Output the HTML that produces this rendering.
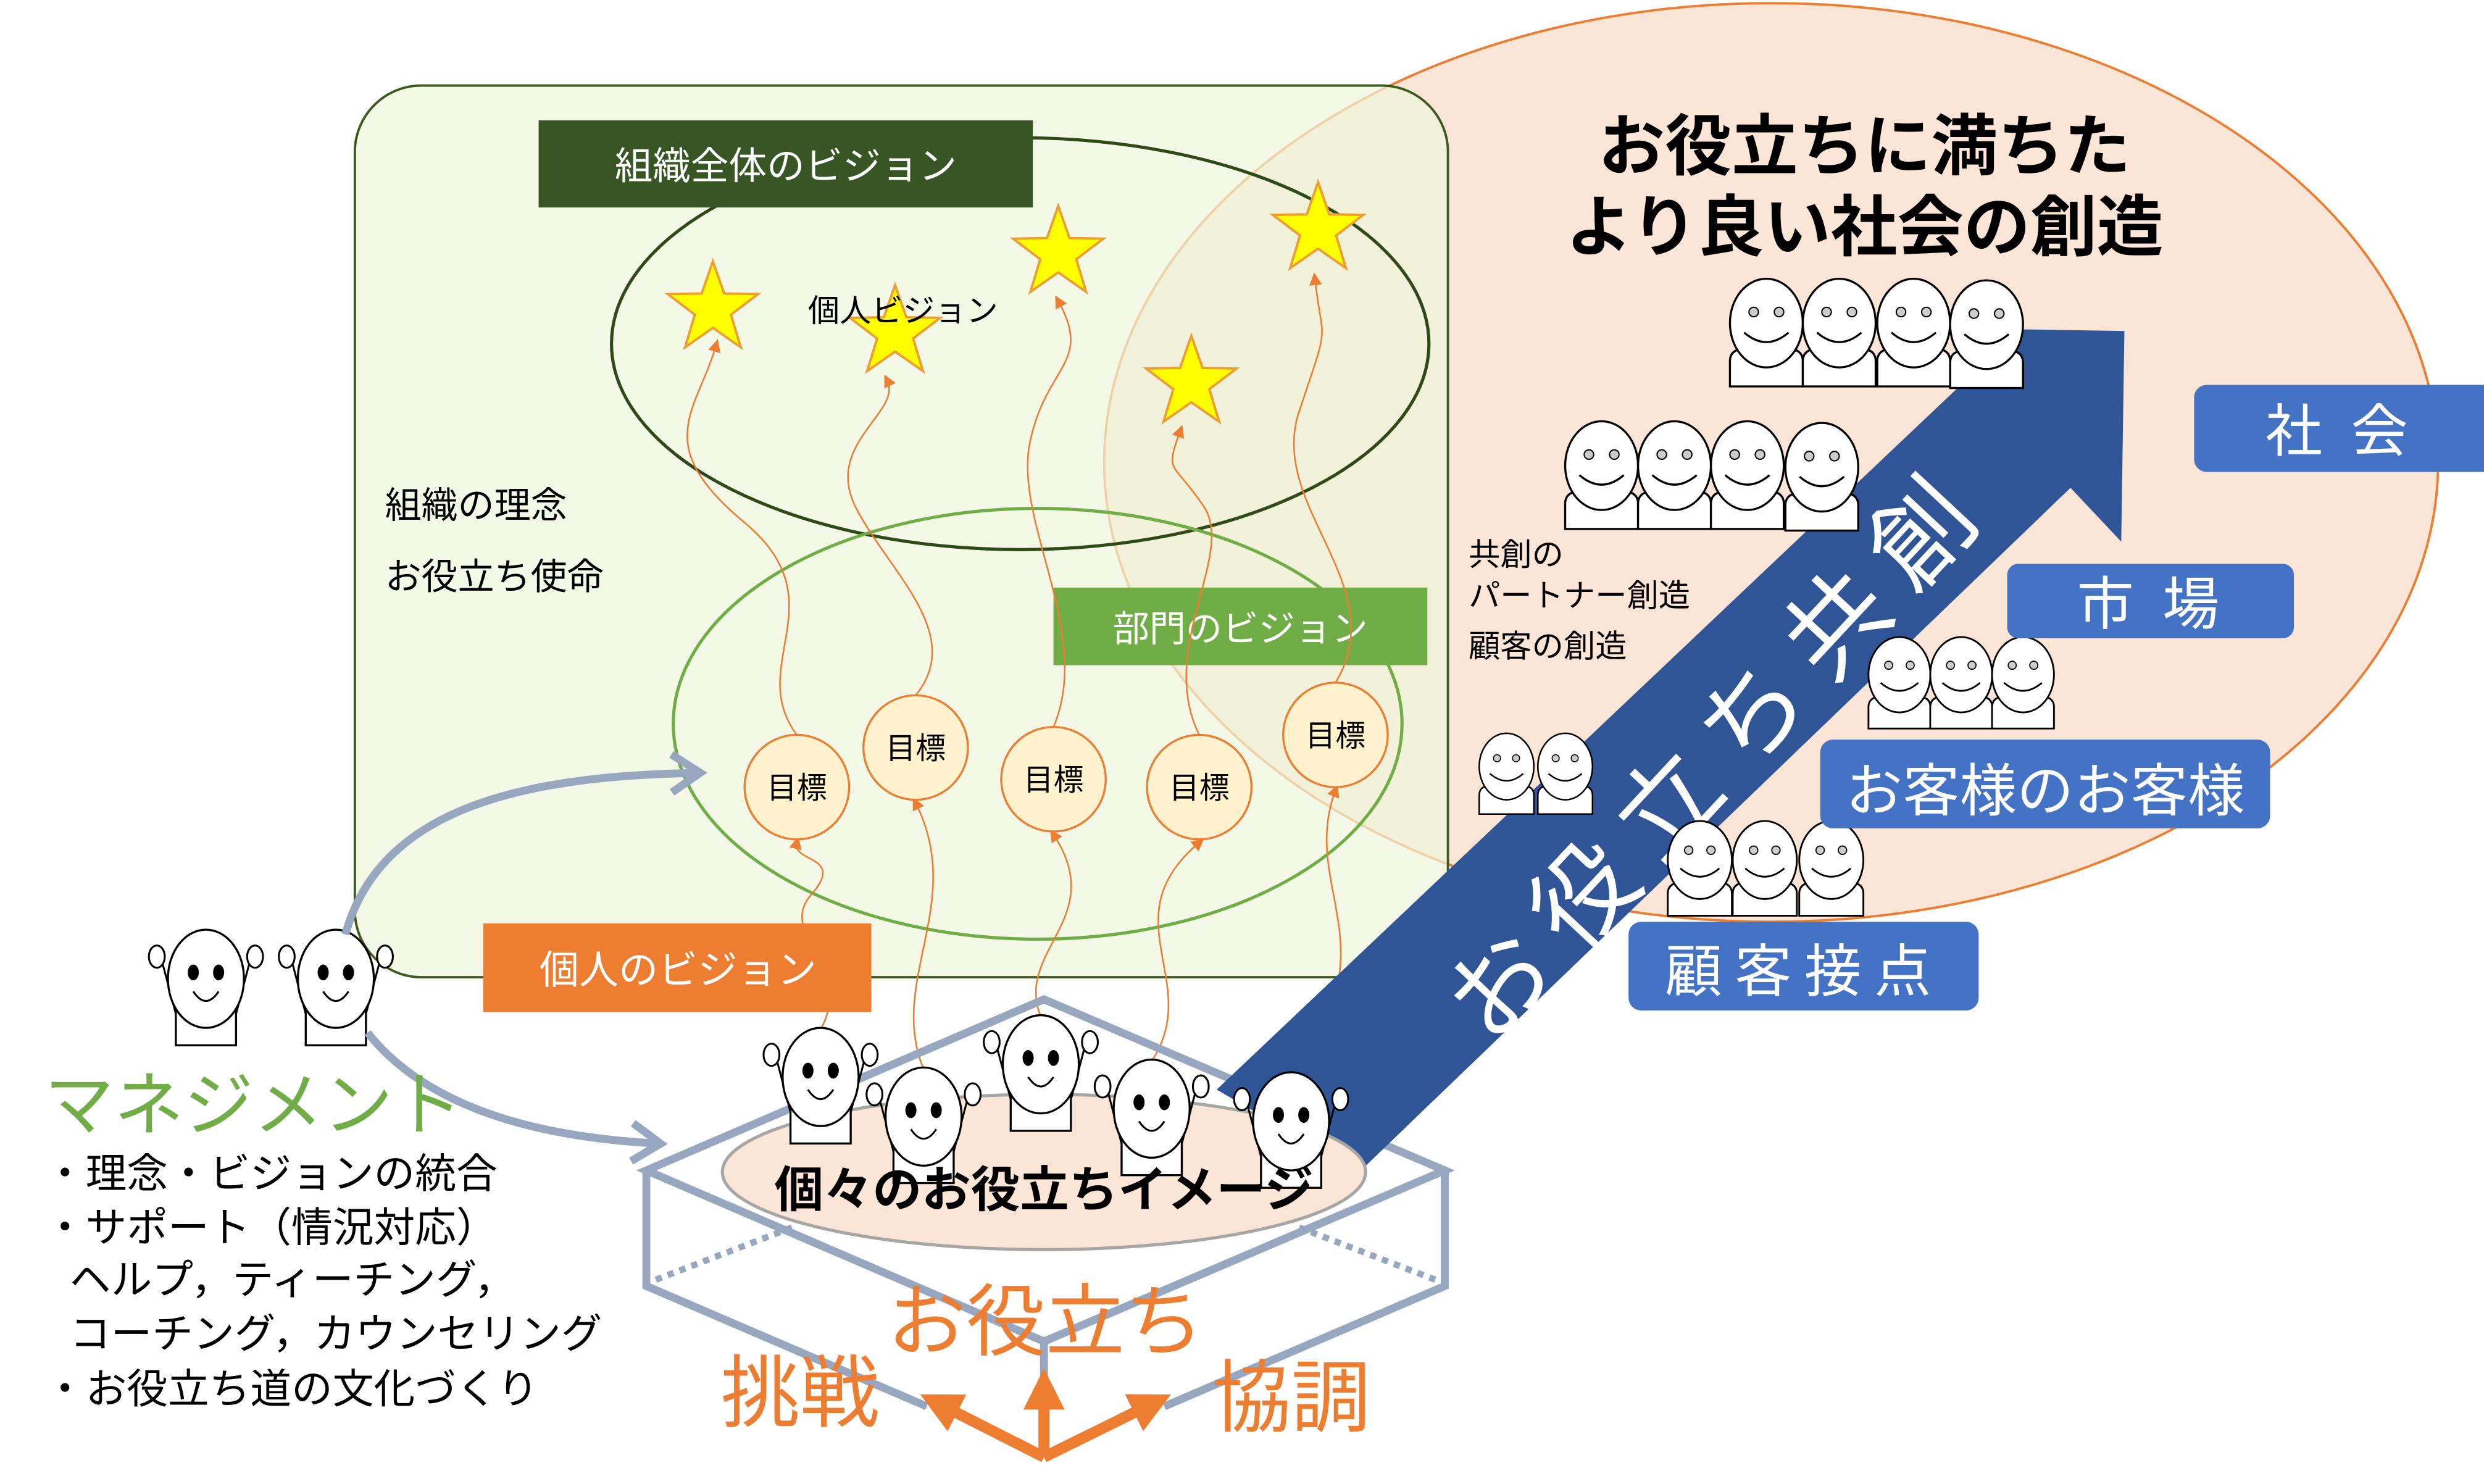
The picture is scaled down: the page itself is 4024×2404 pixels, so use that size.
<!DOCTYPE html>
<html><head><meta charset="utf-8"><style>
html,body{margin:0;padding:0;background:#fff}
svg{display:block}
text{font-family:"Liberation Sans","Noto Sans CJK JP",sans-serif}
</style></head><body>
<svg width="4024" height="2404" viewBox="0 0 1568 937" preserveAspectRatio="none" xmlns="http://www.w3.org/2000/svg">
<defs>
<marker id="m" markerWidth="8" markerHeight="8" refX="4" refY="4" orient="auto" markerUnits="userSpaceOnUse"><path d="M0,0 L8,4 L0,8 Z" fill="#ed7d31"/></marker>
<marker id="g" markerWidth="30" markerHeight="30" refX="20" refY="15" orient="auto" markerUnits="userSpaceOnUse"><path d="M4,3 L22,15 L4,27" fill="none" stroke="#97a7c0" stroke-width="5"/></marker>
<marker id="o" markerWidth="26" markerHeight="26" refX="18" refY="13" orient="auto" markerUnits="userSpaceOnUse"><path d="M0,0 L26,13 L0,26 Z" fill="#ed7d31"/></marker>
<g id="face">
<path d="M-23,40 V24 Q-23,16 -12,16 H12 Q23,16 23,24 V40 Z" fill="#fff" stroke="#000" stroke-width="1.3"/>
<ellipse cx="0" cy="0" rx="23" ry="28" fill="#fff" stroke="#000" stroke-width="1.3"/>
<circle cx="-8" cy="-7" r="3" fill="#ccc" stroke="#000" stroke-width="0.8"/>
<circle cx="8" cy="-7" r="3" fill="#ccc" stroke="#000" stroke-width="0.8"/>
<path d="M-14,6 Q0,18 14,6" fill="none" stroke="#000" stroke-width="1.3"/>
</g>
<g id="arm">
<path d="M-28,-12 L-18,26 M28,-12 L18,26" stroke="#000" stroke-width="1.2"/>
<rect x="-19" y="18" width="38" height="24" fill="#fff" stroke="#000" stroke-width="1.3"/>
<ellipse cx="-31" cy="-14" rx="5" ry="7" fill="#fff" stroke="#000" stroke-width="1.2"/>
<ellipse cx="31" cy="-14" rx="5" ry="7" fill="#fff" stroke="#000" stroke-width="1.2"/>
<ellipse cx="0" cy="0" rx="24" ry="31" fill="#fff" stroke="#000" stroke-width="1.3"/>
<ellipse cx="-8" cy="-4" rx="3.5" ry="5" fill="#000"/>
<ellipse cx="8" cy="-4" rx="3.5" ry="5" fill="#000"/>
<path d="M-8,8 Q0,20 8,8" fill="none" stroke="#000" stroke-width="1.2"/>
</g>
<polygon id="star" points="0,-30 7.1,-9.7 28.5,-9.3 11.4,3.7 17.6,24.3 0,12 -17.6,24.3 -11.4,3.7 -28.5,-9.3 -7.1,-9.7" fill="#ffff00" stroke="#ed9d31" stroke-width="1.5"/>
</defs>

<ellipse cx="1118" cy="292" rx="421" ry="290" fill="#fbe5d6" stroke="#ed7d31" stroke-width="1.5"/>
<rect x="224" y="54" width="690" height="563" rx="42" fill="#eef7dc" fill-opacity="0.7" stroke="#3c5a1e" stroke-width="1.5"/>

<ellipse cx="644" cy="217" rx="258" ry="130" fill="none" stroke="#2f4a17" stroke-width="2"/>
<ellipse cx="655" cy="457" rx="230" ry="136" fill="none" stroke="#70ad47" stroke-width="2"/>

<rect x="340" y="76" width="312" height="55" fill="#375623"/>
<text x="496" y="113" font-size="24" fill="#fff" text-anchor="middle">組織全体のビジョン</text>
<rect x="665" y="371" width="236" height="49" fill="#70ad47"/>
<text x="783" y="405" font-size="23" fill="#fff" text-anchor="middle">部門のビジョン</text>

<text x="243" y="327" font-size="23">組織の理念</text>
<text x="243" y="372" font-size="23">お役立ち使命</text>

<use href="#star" x="450" y="195"/>
<use href="#star" x="565" y="210"/>
<use href="#star" x="668" y="160"/>
<use href="#star" x="752" y="242"/>
<use href="#star" x="832" y="145"/>
<text x="510" y="203" font-size="20">個人ビジョン</text>

<g fill="none" stroke="#ed7d31" stroke-width="1" marker-end="url(#m)">
<path d="M503,464 C470,420 530,380 470,330 S 440,260 452,218"/>
<path d="M578,439 C610,400 560,360 540,320 S 570,260 560,240"/>
<path d="M665,459 C690,400 640,330 650,280 S 690,230 668,190"/>
<path d="M757,464 C730,410 780,350 760,320 S 735,300 745,272"/>
<path d="M843,431 C880,370 800,320 820,260 S 835,220 830,176"/>
<path d="M518,650 C540,610 490,590 512,565 S 500,545 503,532"/>
<path d="M583,675 C560,620 610,570 578,507"/>
<path d="M657,642 C640,600 700,580 665,527"/>
<path d="M727,670 C760,620 700,580 757,532"/>
<path d="M815,676 C880,600 820,560 843,499"/>
</g>

<g fill="#fff2cc" stroke="#ed7d31" stroke-width="1.3">
<circle cx="503" cy="497" r="33"/><circle cx="578" cy="472" r="33"/><circle cx="665" cy="492" r="33"/><circle cx="757" cy="497" r="33"/><circle cx="843" cy="464" r="33"/>
</g>
<g font-size="19" text-anchor="middle">
<text x="503" y="504">目標</text><text x="578" y="479">目標</text><text x="665" y="499">目標</text><text x="757" y="504">目標</text><text x="843" y="471">目標</text>
</g>

<!-- cube -->
<g fill="none" stroke="#97a7c0" stroke-width="5">
<path d="M659,631 L912,739 L659,847 L408,739 Z"/>
<path d="M408,739 V812 L585,888 M912,739 V812 L735,888"/>
<path d="M659,847 V870"/>
</g>
<g fill="none" stroke="#97a7c0" stroke-width="4" stroke-dasharray="4,4">
<path d="M414,808 L500,775 M906,808 L820,775"/>
</g>

<!-- big arrow -->
<polygon points="768,688 1241,240 1278,208 1341,209 1339,342 1307,308 858,740" fill="#2f5597"/>
<text transform="translate(1085,475) rotate(-47)" font-size="64" fill="#fff" text-anchor="middle" letter-spacing="14" dy="22">お役立ち共創</text>

<ellipse cx="659" cy="740" rx="203" ry="49" fill="#fbe5d6" stroke="#a6a6a6" stroke-width="2"/>
<rect x="305" y="583" width="245" height="56" fill="#ed7d31"/>
<text x="428" y="621" font-size="25" fill="#fff" text-anchor="middle">個人のビジョン</text>

<use href="#arm" x="518" y="680"/>
<use href="#arm" x="583" y="705"/>
<use href="#arm" x="657" y="672"/>
<use href="#arm" x="727" y="700"/>
<use href="#arm" x="815" y="708"/>
<text x="659" y="762" font-size="31" font-weight="bold" text-anchor="middle">個々のお役立ちイメージ</text>

<use href="#arm" x="130" y="618"/>
<use href="#arm" x="212" y="618"/>
<g fill="none" stroke="#97a7c0" stroke-width="5">
<path d="M218,590 C240,510 330,490 440,488" marker-end="url(#g)"/>
<path d="M232,652 C270,700 340,718 415,722" marker-end="url(#g)"/>
</g>

<text x="28" y="713" font-size="44" fill="#70ad47">マネジメント</text>
<g font-size="26">
<text x="28" y="750">・理念・ビジョンの統合</text>
<text x="28" y="784">・サポート（情況対応）</text>
<text x="44" y="817">ヘルプ，ティーチング，</text>
<text x="44" y="851">コーチング，カウンセリング</text>
<text x="28" y="886">・お役立ち道の文化づくり</text>
</g>

<g fill="#ed7d31" font-size="50">
<text x="660" y="852" text-anchor="middle">お役立ち</text>
<text x="505" y="897" text-anchor="middle">挑戦</text>
<text x="815" y="900" text-anchor="middle">協調</text>
</g>
<g stroke="#ed7d31" stroke-width="7" fill="none">
<path d="M659,920 L588,884" marker-end="url(#o)"/>
<path d="M659,920 V872" marker-end="url(#o)"/>
<path d="M659,920 L732,884" marker-end="url(#o)"/>
</g>

<text x="1177" y="107" font-size="42" font-weight="bold" text-anchor="middle">お役立ちに満ちた</text>
<text x="1177" y="158" font-size="42" font-weight="bold" text-anchor="middle">より良い社会の創造</text>

<use href="#face" x="1115" y="204"/><use href="#face" x="1161" y="204"/><use href="#face" x="1208" y="204"/><use href="#face" x="1254" y="205"/>
<use href="#face" x="1011" y="294"/><use href="#face" x="1057" y="294"/><use href="#face" x="1103" y="294"/><use href="#face" x="1150" y="295"/>
<g transform="translate(1199,426) scale(0.85)"><use href="#face"/></g>
<g transform="translate(1238,426) scale(0.85)"><use href="#face"/></g>
<g transform="translate(1277,426) scale(0.85)"><use href="#face"/></g>
<g transform="translate(951,484) scale(0.75)"><use href="#face"/></g>
<g transform="translate(988,484) scale(0.75)"><use href="#face"/></g>
<g transform="translate(1073,543) scale(0.88)"><use href="#face"/></g>
<g transform="translate(1114,543) scale(0.88)"><use href="#face"/></g>
<g transform="translate(1156,543) scale(0.88)"><use href="#face"/></g>

<g font-size="20">
<text x="927" y="357">共創の</text>
<text x="927" y="383">パートナー創造</text>
<text x="927" y="415">顧客の創造</text>
</g>

<g fill="#4472c4">
<rect x="1385" y="243" width="190" height="55" rx="8"/>
<rect x="1267" y="356" width="181" height="47" rx="7"/>
<rect x="1149" y="467" width="284" height="56" rx="8"/>
<rect x="1028" y="582" width="221" height="56" rx="8"/>
</g>
<g fill="#fff" font-size="36" text-anchor="middle">
<text x="1477" y="285" letter-spacing="4">社 会</text>
<text x="1358" y="394" letter-spacing="4">市 場</text>
<text x="1291" y="512" font-size="36">お客様のお客様</text>
<text x="1139" y="626" letter-spacing="8">顧客接点</text>
</g>
</svg>
</body></html>
